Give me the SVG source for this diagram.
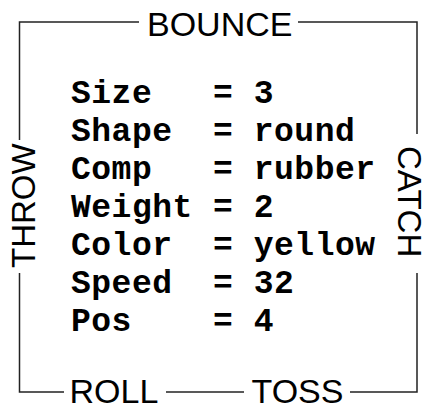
<svg xmlns="http://www.w3.org/2000/svg" width="425" height="405" viewBox="0 0 425 405">
<style>
.ln{stroke:#222;stroke-width:1.5;fill:none}
.lab{font-family:"Liberation Sans",Arial,sans-serif;font-size:34px;fill:#000}
.side{font-size:33px}
.kv{font-family:"Liberation Mono","Courier New",monospace;font-weight:bold;font-size:33px;letter-spacing:0.5px;fill:#000;white-space:pre}
</style>
<rect width="425" height="405" fill="#fff"/>
<g id="connectors">
<polyline class="ln" points="139,22 19.5,22 19.5,140"/>
<polyline class="ln" points="298,22 417,22 417,134"/>
<polyline class="ln" points="19.5,273 19.5,392 64,392"/>
<line class="ln" x1="166" y1="392" x2="244" y2="392"/>
<polyline class="ln" points="350,392 417,392 417,273"/>
</g>
<g id="bounce"><text class="lab" x="147" y="36">BOUNCE</text></g>
<g id="throw"><text class="lab side" transform="translate(35,268) rotate(-90)">THROW</text></g>
<g id="catch"><text class="lab side" transform="translate(398,146) rotate(90)">CATCH</text></g>
<g id="roll"><text class="lab" x="69.5" y="403">ROLL</text></g>
<g id="toss"><text class="lab" x="251.5" y="403">TOSS</text></g>
<g id="ball">
<text class="kv" x="71" y="103">Size   = 3</text>
<text class="kv" x="71" y="141">Shape  = round</text>
<text class="kv" x="71" y="179">Comp   = rubber</text>
<text class="kv" x="71" y="217">Weight = 2</text>
<text class="kv" x="71" y="255">Color  = yellow</text>
<text class="kv" x="71" y="293">Speed  = 32</text>
<text class="kv" x="71" y="331">Pos    = 4</text>
</g>
</svg>
